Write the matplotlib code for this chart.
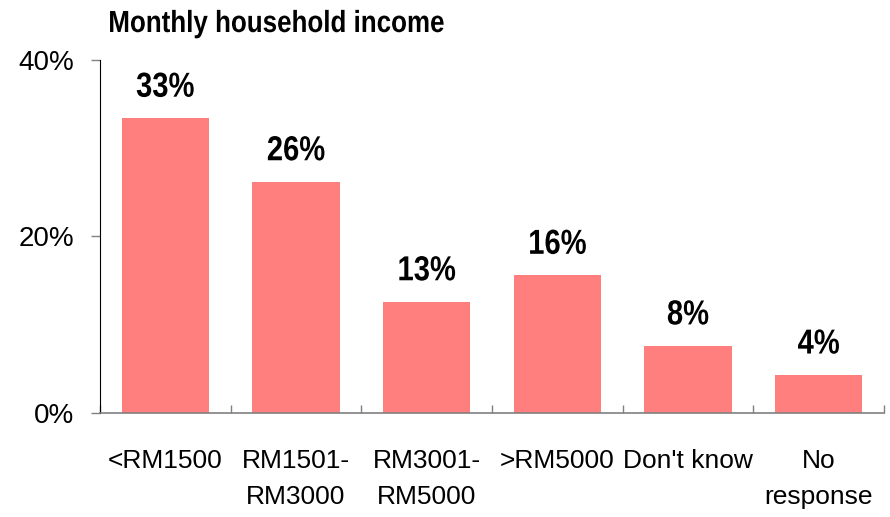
import matplotlib
matplotlib.use("Agg")
import matplotlib.pyplot as plt
from matplotlib import patheffects
from matplotlib.transforms import Affine2D
import numpy as np

categories = ["<RM1500", "RM1501-\nRM3000", "RM3001-\nRM5000", ">RM5000", "Don't know", "No\nresponse"]
values = [33.4, 26.2, 12.6, 15.6, 7.6, 4.3]
value_labels = ["33%", "26%", "13%", "16%", "8%", "4%"]
yticks = [0, 20, 40]
ytick_labels = ["0%", "20%", "40%"]

plt.rcParams['font.family'] = ['Liberation Sans', 'DejaVu Sans']


# squeeze bold text sideways, the original uses a narrow bold face
class Condense(patheffects.AbstractPathEffect):
    def __init__(self, sx, anchor='center'):
        super().__init__()
        self.sx = sx
        self.anchor = anchor

    def draw_path(self, renderer, gc, tpath, affine, rgbFace=None):
        ext = tpath.get_extents()
        cx = {'left': ext.x0, 'center': (ext.x0 + ext.x1) / 2, 'right': ext.x1}[self.anchor]
        t = Affine2D().translate(-cx, 0).scale(self.sx, 1).translate(cx, 0) + affine
        renderer.draw_path(gc, tpath, t, rgbFace)


fig = plt.figure(figsize=(8.9, 5.17), dpi=100)
ax = fig.add_axes([100/890, 1-413/517, 784/890, 353/517])

x = np.arange(len(categories))
bars = ax.bar(x, values, width=0.666, color='#FF7F7F', zorder=2)
for b, lab in zip(bars, value_labels):
    ax.annotate(lab, (b.get_x() + b.get_width()/2, b.get_height()),
                xytext=(0, 15.5), textcoords='offset points',
                ha='center', va='baseline', fontsize=25, fontweight='bold',
                path_effects=[Condense(0.84)])

ax.set_xlim(-0.5, len(categories) - 0.5)
ax.set_ylim(0, 40)
ax.set_yticks(yticks)
ax.set_yticklabels(ytick_labels, fontsize=20)
ax.set_xticks(x)
ax.set_xticklabels(categories, fontsize=19, linespacing=1.6, va='top')
ax.tick_params(axis='x', length=0, pad=26)
ax.set_xticks(np.arange(len(categories) + 1) - 0.5, minor=True)
ax.tick_params(axis='x', which='minor', direction='in', length=6, color='#808080', width=1)
ax.tick_params(axis='y', direction='out', length=6.5, color='#808080', width=1, pad=12)

for s in ['top', 'right']:
    ax.spines[s].set_visible(False)
ax.spines['left'].set_color('black')
ax.spines['bottom'].set_color('#808080')
ax.spines['bottom'].set_linewidth(1.2)

fig.text(108/890, 1-32/517, "Monthly household income", fontsize=22, fontweight='bold',
         ha='left', va='baseline', path_effects=[Condense(0.85, 'left')])

fig.savefig("out.png", dpi=100)
